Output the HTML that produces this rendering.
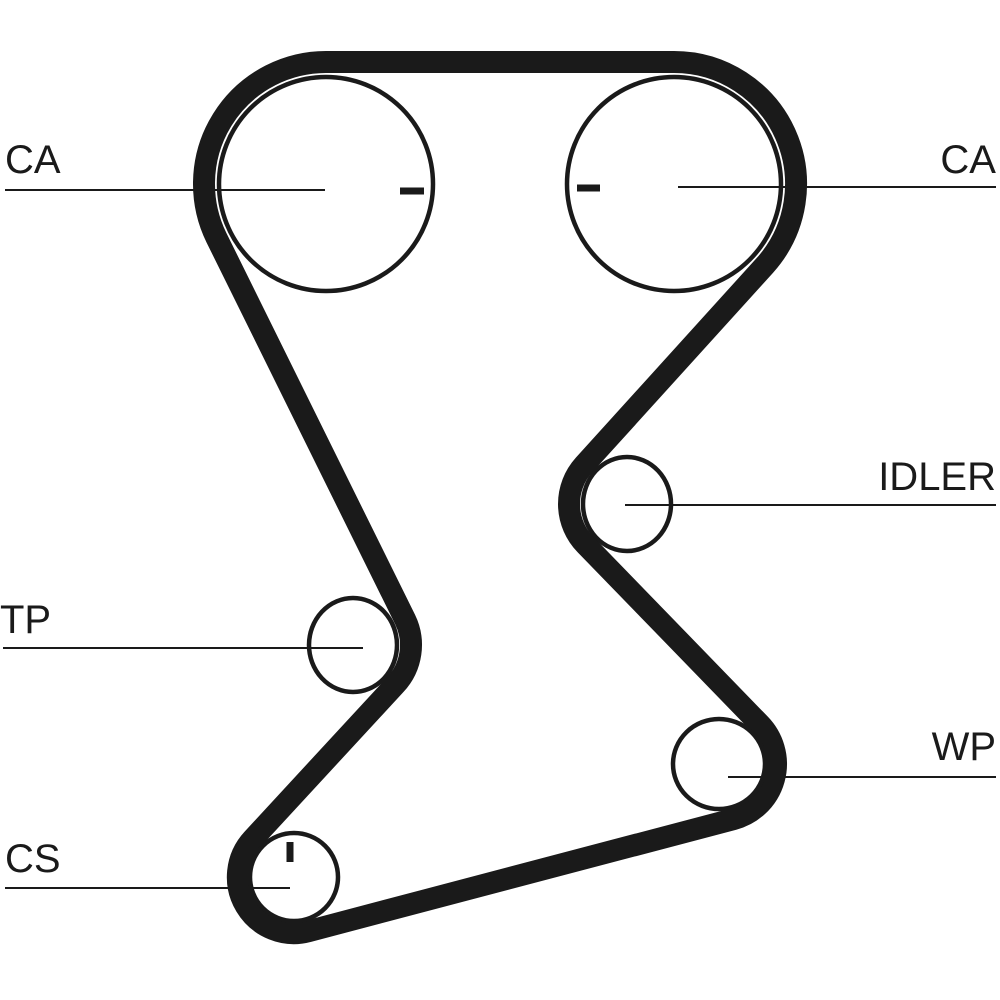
<!DOCTYPE html>
<html><head><meta charset="utf-8"><style>
html,body{margin:0;padding:0;background:#fff;}
svg{display:block}
text{font-family:"Liberation Sans",sans-serif;font-size:40px;fill:#1a1a1a}
</style></head><body>
<svg width="1000" height="1000" viewBox="0 0 1000 1000" xmlns="http://www.w3.org/2000/svg">
<rect width="1000" height="1000" fill="#fff"/>
<!-- belt -->
<path d="M 326,62 L 674,62 A 122 122 0 0 1 764.9,265.4 L 583.8,465.3 A 58 58 0 0 0 585.4,544.4 L 759.9,724.3 A 57 57 0 0 1 733.5,819.1 L 308.3,931.2 A 56 56 0 0 1 252.8,839.0 L 395.6,684.3 A 58 58 0 0 0 405.1,619.5 L 216.4,237.6 A 122 122 0 0 1 326,62 Z" fill="none" stroke="#1a1a1a" stroke-width="22" stroke-linejoin="round"/>
<!-- pulleys -->
<g fill="#fff" stroke="#1a1a1a" stroke-width="4.5">
<circle cx="326" cy="184" r="107"/>
<circle cx="674" cy="184" r="107"/>
<ellipse cx="627" cy="504" rx="44" ry="47"/>
<ellipse cx="353" cy="645" rx="44" ry="47"/>
<ellipse cx="719" cy="764" rx="46" ry="45"/>
<ellipse cx="294" cy="877" rx="44" ry="44"/>
</g>
<!-- ticks -->
<g stroke="#1a1a1a" stroke-width="7">
<line x1="400" y1="191" x2="424" y2="191"/>
<line x1="577" y1="188" x2="600" y2="188"/>
<line x1="290" y1="842" x2="290" y2="862"/>
</g>
<!-- leader lines -->
<g stroke="#1a1a1a" stroke-width="2">
<line x1="5" y1="190" x2="325" y2="190"/>
<line x1="678" y1="187" x2="996" y2="187"/>
<line x1="625" y1="505" x2="996" y2="505"/>
<line x1="3" y1="648" x2="363" y2="648"/>
<line x1="728" y1="777" x2="996" y2="777"/>
<line x1="5" y1="888" x2="290" y2="888"/>
</g>
<text x="5" y="173">CA</text>
<text x="996" y="173" text-anchor="end">CA</text>
<text x="996" y="490" text-anchor="end">IDLER</text>
<text x="0" y="633">TP</text>
<text x="996" y="760" text-anchor="end">WP</text>
<text x="5" y="872">CS</text>
</svg>
</body></html>
